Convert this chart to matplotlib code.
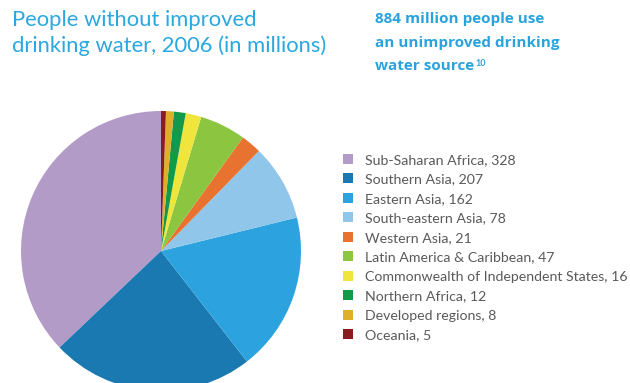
import matplotlib.pyplot as plt
from matplotlib.patches import Patch

regions = ['Sub-Saharan Africa', 'Southern Asia', 'Eastern Asia', 'South-eastern Asia',
           'Western Asia', 'Latin America & Caribbean', 'Commonwealth of Independent States',
           'Northern Africa', 'Developed regions', 'Oceania']
people = [328, 207, 162, 78, 21, 47, 16, 12, 8, 5]
colors = ['#b39bc8', '#1b79b1', '#2ca3df', '#90c6ea', '#e8722f',
          '#8cc640', '#efe53d', '#12994a', '#deb02a', '#8a1c1f']

plt.rcParams['font.family'] = ['Lato', 'DejaVu Sans']

W, H = 630, 383
fig = plt.figure(figsize=(W / 100, H / 100), dpi=100)

# pie axes placed in pixel terms (centre ~ (161, 251), radius ~140)
cx, cy, r = 161, 251, 140
ax = fig.add_axes([(cx - r) / W, (H - cy - r) / H, 2 * r / W, 2 * r / H])
ax.pie(people, colors=colors, startangle=90, counterclock=True,
       wedgeprops=dict(linewidth=0))
ax.set_xlim(-1, 1)
ax.set_ylim(-1, 1)
ax.set_aspect('equal')
ax.axis('off')

fig.text(12 / W, 1 - 10 / H, 'People without improved\ndrinking water, 2006 (in millions)',
         color='#2aa8e0', fontsize=15.8, va='top', ha='left', linespacing=1.35)

# side note, one line at a time
blue = '#2aa3dd'
note = ['884 million people use', 'an unimproved drinking', 'water source']
tops = [12, 36, 59]
for line, top in zip(note, tops):
    t = fig.text(375 / W, 1 - top / H, line, color=blue, fontsize=11, fontweight='bold',
                 family=['Open Sans', 'DejaVu Sans'], va='top', ha='left')
ax.annotate('10', xy=(1, 1), xycoords=t, xytext=(1, 0), textcoords='offset points',
            color=blue, fontsize=6.5, fontweight='bold', va='top', ha='left',
            annotation_clip=False)

handles = [Patch(facecolor=c, edgecolor='none') for c in colors]
labels = [f'{n}, {v}' for n, v in zip(regions, people)]
fig.legend(handles, labels, loc='upper left', bbox_to_anchor=(337 / W, 1 - 148 / H),
           frameon=False, fontsize=10.2, labelcolor='#5a5a5a', handlelength=0.7,
           handleheight=0.7, handletextpad=0.9, labelspacing=0.53, borderaxespad=0)

fig.savefig('out.png', dpi=100)
